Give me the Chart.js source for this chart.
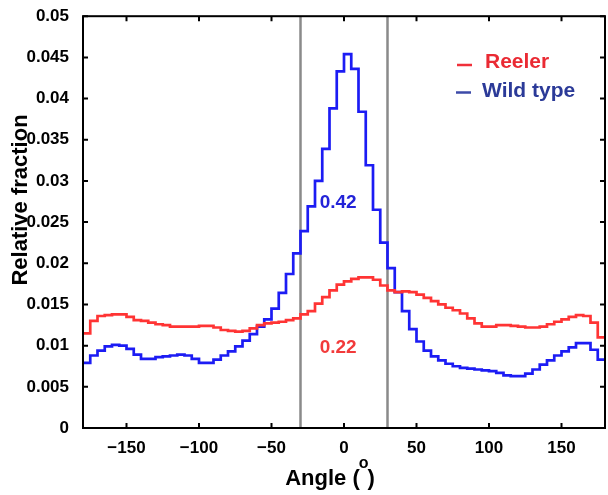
<!DOCTYPE html>
<html lang="en">
<head>
    <meta charset="UTF-8">
    <title>Orientation distribution - Reeler vs Wild type</title>
    <script src="https://cdn.jsdelivr.net/npm/chart.js"></script>
    <style>
        html, body { margin: 0; padding: 0; background: #fff; }
        #wrap { width: 608px; height: 495px; }
    </style>
</head>
<body>
    <div id="wrap"><canvas id="angleChart" width="608" height="495"></canvas></div>

    <script>
        // Left edges of the 5 degree angle bins
        const binEdges = [
            -180, -175, -170, -165, -160, -155, -150, -145, -140, -135, -130, -125,
            -120, -115, -110, -105, -100, -95, -90, -85, -80, -75, -70, -65,
            -60, -55, -50, -45, -40, -35, -30, -25, -20, -15, -10, -5,
            0, 5, 10, 15, 20, 25, 30, 35, 40, 45, 50, 55,
            60, 65, 70, 75, 80, 85, 90, 95, 100, 105, 110, 115,
            120, 125, 130, 135, 140, 145, 150, 155, 160, 165, 170, 175
        ];
        const binWidth = 5;

        const reeler = [
            0.0115, 0.0130, 0.0136, 0.0137, 0.0138, 0.0138, 0.0135, 0.0131, 0.0130, 0.0128, 0.0126, 0.0125,
            0.0123, 0.0123, 0.0123, 0.0123, 0.0124, 0.0124, 0.0122, 0.0119, 0.0118, 0.0117, 0.0118, 0.0121,
            0.0125, 0.0127, 0.0128, 0.0129, 0.0131, 0.0133, 0.0138, 0.0142, 0.0151, 0.0159, 0.0167, 0.0174,
            0.0178, 0.0181, 0.0183, 0.0183, 0.0180, 0.0173, 0.0167, 0.0165, 0.0166, 0.0165, 0.0162, 0.0158,
            0.0154, 0.0150, 0.0146, 0.0143, 0.0139, 0.0133, 0.0127, 0.0123, 0.0123, 0.0125, 0.0125, 0.0124,
            0.0123, 0.0122, 0.0122, 0.0123, 0.0126, 0.0129, 0.0132, 0.0135, 0.0137, 0.0136, 0.0128, 0.0110
        ];

        const wildType = [
            0.0079, 0.0088, 0.0094, 0.0099, 0.0101, 0.0100, 0.0096, 0.0089, 0.0084, 0.0084, 0.0086, 0.0087,
            0.0088, 0.0089, 0.0088, 0.0084, 0.0079, 0.0079, 0.0083, 0.0088, 0.0093, 0.0099, 0.0106, 0.0114,
            0.0123, 0.0132, 0.0145, 0.0164, 0.0187, 0.0212, 0.0239, 0.0269, 0.0300, 0.0339, 0.0388, 0.0433,
            0.0454, 0.0436, 0.0384, 0.0319, 0.0265, 0.0225, 0.0194, 0.0165, 0.0142, 0.0120, 0.0105, 0.0094,
            0.0087, 0.0082, 0.0078, 0.0075, 0.0073, 0.0072, 0.0071, 0.0070, 0.0069, 0.0067, 0.0064, 0.0063,
            0.0063, 0.0066, 0.0071, 0.0077, 0.0082, 0.0088, 0.0093, 0.0098, 0.0103, 0.0103, 0.0095, 0.0083
        ];

        const xTicks = [-150, -100, -50, 0, 50, 100, 150];
        const yTicks = [0, 0.005, 0.01, 0.015, 0.02, 0.025, 0.03, 0.035, 0.04, 0.045, 0.05];

        // Window around 0 degrees and the fraction of each population inside it
        const windowEdges = [-30, 30];
        const windowFraction = ['0.42', '0.22'];

        const RED = '#ff3434';
        const BLUE = '#1c1cf4';
        const FONT = '"Liberation Sans", Arial, sans-serif';

        // step histogram: one point per left edge plus the closing right edge
        function stepPoints(values) {
            const pts = binEdges.map((x, i) => ({ x: x, y: values[i] }));
            pts.push({ x: binEdges[binEdges.length - 1] + binWidth, y: values[values.length - 1] });
            return pts;
        }

        const windowLines = {
            id: 'windowLines',
            beforeDatasetsDraw(chart) {
                const { ctx, chartArea, scales } = chart;
                ctx.save();
                ctx.strokeStyle = '#8a8a8a';
                ctx.lineWidth = 2.5;
                windowEdges.forEach(a => {
                    const px = scales.x.getPixelForValue(a);
                    ctx.beginPath();
                    ctx.moveTo(px, chartArea.top);
                    ctx.lineTo(px, chartArea.bottom);
                    ctx.stroke();
                });
                ctx.restore();
            }
        };

        const frame = {
            id: 'frame',
            afterDraw(chart) {
                const { ctx, chartArea: a, scales } = chart;
                ctx.save();

                // box and inward ticks
                ctx.strokeStyle = '#000';
                ctx.lineWidth = 2;
                ctx.strokeRect(a.left, a.top, a.right - a.left, a.bottom - a.top);
                const tl = 5;
                ctx.beginPath();
                xTicks.forEach(v => {
                    const px = scales.x.getPixelForValue(v);
                    ctx.moveTo(px, a.bottom); ctx.lineTo(px, a.bottom - tl);
                    ctx.moveTo(px, a.top); ctx.lineTo(px, a.top + tl);
                });
                yTicks.forEach(v => {
                    const py = scales.y.getPixelForValue(v);
                    ctx.moveTo(a.left, py); ctx.lineTo(a.left + tl, py);
                    ctx.moveTo(a.right, py); ctx.lineTo(a.right - tl, py);
                });
                ctx.stroke();

                // in-window fractions
                ctx.font = 'bold 19px ' + FONT;
                ctx.textAlign = 'center';
                ctx.textBaseline = 'alphabetic';
                ctx.fillStyle = '#2323d8';
                ctx.fillText(windowFraction[0], scales.x.getPixelForValue(-4), 208);
                ctx.fillStyle = '#f23a3a';
                ctx.fillText(windowFraction[1], scales.x.getPixelForValue(-4), 353);

                // legend
                const ds = chart.data.datasets;
                ctx.lineWidth = 2.5;
                ctx.strokeStyle = '#f0303a';
                ctx.beginPath(); ctx.moveTo(457, 65); ctx.lineTo(472, 65); ctx.stroke();
                ctx.strokeStyle = '#3c4aa8';
                ctx.beginPath(); ctx.moveTo(456, 92.5); ctx.lineTo(471, 92.5); ctx.stroke();
                ctx.font = 'bold 21px ' + FONT;
                ctx.textAlign = 'left';
                ctx.fillStyle = '#ea2a33';
                ctx.fillText(ds[0].label, 485, 68);
                ctx.fillStyle = '#2b3a98';
                ctx.fillText(ds[1].label, 482, 97);

                // axis titles
                ctx.fillStyle = '#000';
                ctx.font = 'bold 22px ' + FONT;
                ctx.save();
                ctx.translate(27, 200);
                ctx.rotate(-Math.PI / 2);
                ctx.textAlign = 'center';
                ctx.fillText('Relative fraction', 0, 0);
                ctx.restore();

                const head = 'Angle (';
                const tail = ')';
                ctx.font = 'bold 22px ' + FONT;
                const wHead = ctx.measureText(head).width;
                const wTail = ctx.measureText(tail).width;
                ctx.font = 'bold 16px ' + FONT;
                const wSup = ctx.measureText('o').width;
                let x0 = 331 - (wHead + wSup + wTail) / 2;
                ctx.font = 'bold 22px ' + FONT;
                ctx.fillText(head, x0, 485);
                ctx.font = 'bold 16px ' + FONT;
                ctx.fillText('o', x0 + wHead - 1, 468);
                ctx.font = 'bold 22px ' + FONT;
                ctx.fillText(tail, x0 + wHead + wSup - 2, 485);

                ctx.restore();
            }
        };

        const tickFont = { family: FONT, size: 17, weight: 'bold' };

        new Chart(document.getElementById('angleChart'), {
            type: 'line',
            data: {
                datasets: [
                    {
                        label: 'Reeler',
                        data: stepPoints(reeler),
                        borderColor: RED,
                        borderWidth: 2.7,
                        stepped: true,
                        pointRadius: 0,
                        fill: false
                    },
                    {
                        label: 'Wild type',
                        data: stepPoints(wildType),
                        borderColor: BLUE,
                        borderWidth: 2.7,
                        stepped: true,
                        pointRadius: 0,
                        fill: false
                    }
                ]
            },
            options: {
                responsive: false,
                animation: false,
                devicePixelRatio: 1,
                layout: { padding: { left: 0, right: 3, top: 14, bottom: 0 } },
                plugins: {
                    legend: { display: false },
                    tooltip: { enabled: false }
                },
                scales: {
                    x: {
                        type: 'linear',
                        min: -180,
                        max: 180,
                        afterBuildTicks: s => { s.ticks = xTicks.map(v => ({ value: v })); },
                        afterFit: s => { s.height = 67; },
                        grid: { display: false },
                        border: { display: false },
                        ticks: {
                            font: tickFont,
                            color: '#000',
                            padding: 2,
                            maxRotation: 0,
                            autoSkip: false,
                            callback: v => (v < 0 ? '\u2212' + Math.abs(v) : String(v))
                        }
                    },
                    y: {
                        min: 0,
                        max: 0.05,
                        afterBuildTicks: s => { s.ticks = yTicks.map(v => ({ value: v })); },
                        afterFit: s => { s.width = 83; },
                        grid: { display: false },
                        border: { display: false },
                        ticks: {
                            font: tickFont,
                            color: '#000',
                            padding: 6,
                            autoSkip: false,
                            callback: v => String(+v.toFixed(3))
                        }
                    }
                }
            },
            plugins: [windowLines, frame]
        });
    </script>
</body>
</html>
